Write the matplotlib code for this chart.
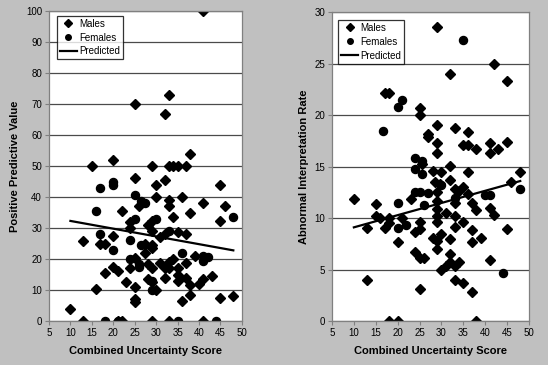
import numpy as np
import matplotlib
matplotlib.use('Agg')
from matplotlib import pyplot as plt
from matplotlib.lines import Line2D

plt.rcParams['font.family'] = ['Liberation Sans', 'DejaVu Sans']

# left panel: positive predictive value
males_ppv_x = [41, 25, 33, 32, 38, 15, 20, 29, 33, 34, 35, 37, 25, 30, 32, 45, 30, 33, 36, 41,
               46, 45, 22, 26, 24, 29, 28, 34, 38, 33, 24, 29, 32, 31, 35, 37, 20, 27.5, 29, 29,
               27.5, 13, 17, 18, 25, 28, 29, 31, 32, 33, 34, 33, 37, 35, 35, 35, 39, 20, 21, 18,
               24, 28, 29, 32, 37, 38, 40, 41, 43, 23, 16, 25, 30, 25, 25, 36, 38, 45, 48, 10,
               13, 21, 22, 29, 33, 41]
males_ppv_y = [100, 70, 73, 66.7, 54, 50, 52, 50, 50, 50, 50, 50, 46, 44, 45.5, 44, 40, 39, 40, 38,
               37, 32.4, 35.4, 37, 32, 32.4, 31, 33.6, 35, 37, 30, 29, 28, 27, 28.6, 28, 27.3, 25, 24.5, 23.5,
               22, 25.8, 25, 25, 20.3, 18.5, 17, 18.7, 17, 17, 20, 19, 18.6, 17, 15, 13, 21, 17.5, 16, 15.6,
               17, 13.5, 12.5, 13.8, 13.8, 11.5, 12, 13.5, 14.5, 12.5, 10.3, 11, 10, 7, 6, 6.5, 8.3, 7.5, 8, 4,
               0, 0, 0, 0, 0, 0]
females_ppv_x = [20, 17, 20, 25, 26.5, 48, 16, 25, 30, 33, 17, 24, 26.5, 20, 24, 26, 36, 41, 41, 42,
                 29, 18, 21, 35, 44, 27.5, 29, 26]
females_ppv_y = [45, 43, 43.8, 40.6, 38.6, 33.5, 35.4, 33, 33, 29, 28, 26.3, 24.6, 22.8, 20, 18.5, 22, 19.5, 21, 20.5,
                 10, 0, 0, 0, 0, 38, 13, 17.5]
pred_ppv_x = [10, 48]
pred_ppv_y = [32.3, 22.8]

# right panel: abnormal interpretation rate
males_air_x = [29, 32, 42, 45, 17, 18, 25, 25, 29, 33, 36, 27, 27, 29, 29, 35, 36, 38, 41, 41,
               43, 45, 25.5, 28, 32, 36, 48, 46, 10, 13, 13, 15, 15, 16, 17, 18, 18, 20, 21, 23,
               24, 25, 25, 24, 25, 26, 25, 29, 29, 29, 29, 29, 28, 29, 29, 30, 31, 32, 32, 32,
               31, 30, 33, 34, 33, 35, 37, 33, 33, 33, 35, 37, 37, 39, 38, 37, 41, 45, 41, 42,
               34, 35, 36, 33, 28.5, 32, 18, 20, 38, 29.7, 30]
males_air_y = [28.6, 24, 25, 23.3, 22.2, 22.2, 20.7, 20, 19, 18.8, 18.4, 18.2, 17.9, 17.3, 16.3, 17.1, 17.1, 16.7, 17.3, 16.3,
               16.7, 17.4, 15.3, 14.6, 15.1, 14.5, 14.5, 13.5, 11.9, 9, 4, 11.4, 10.2, 10, 9, 9.5, 10, 7.7, 10, 11.9,
               8.6, 8.9, 9.6, 6.7, 6.1, 6.1, 3.1, 12.5, 11.7, 10.9, 10.2, 9.6, 8.1, 7.8, 7.0, 8.5, 10.5, 8, 6.5, 5.7,
               5.3, 5.0, 5.3, 5.7, 4, 3.7, 2.8, 9.1, 10.2, 11.5, 9.6, 8.8, 7.7, 8.1, 10.8, 11.5, 5.9, 8.9, 11, 10.3,
               12.6, 13, 12.3, 12.8, 13.5, 13.7, 0, 0, 0, 13.3, 14.5]
females_air_x = [35, 20, 21, 16.7, 24, 24, 25.5, 25.5, 20, 20, 22, 24, 25, 27, 26, 44, 40, 41, 48, 30, 33]
females_air_y = [27.3, 20.8, 21.5, 18.5, 15.8, 14.8, 14.3, 15.5, 11.5, 9, 9.3, 12.5, 12.5, 12.4, 11.3, 4.7, 12.2, 12.2, 12.8, 13.2, 12]
pred_air_x = [10, 48]
pred_air_y = [9.1, 13.6]

bg = '#c0c0c0'
fig = plt.figure(figsize=(5.48, 3.65), dpi=100, facecolor=bg)


def panel(rect, mx, my, fx, fy, px, py, ymax, ystep, ylabel, leg_anchor):
    ax = fig.add_axes(rect)
    ax.set_facecolor('white')
    ax.set_axisbelow(True)
    ax.yaxis.grid(True, color='#4a4a4a', lw=0.9)
    ax.plot(mx, my, ls='none', marker='D', ms=4.8, color='black')
    ax.plot(fx, fy, ls='none', marker='o', ms=5.8, color='black')
    ax.plot(px, py, color='black', lw=1.6)
    ax.set_xlim(5, 50)
    ax.set_ylim(0, ymax)
    ax.set_xticks(np.arange(5, 51, 5))
    ax.set_yticks(np.arange(0, ymax + 1, ystep))
    for s in ax.spines.values():
        s.set_color('#808080')
        s.set_linewidth(0.9)
    ax.tick_params(labelsize=7, length=3, width=0.8, color='#808080', pad=2)
    ax.set_xlabel('Combined Uncertainty Score', fontsize=8, fontweight='bold', labelpad=6)
    ax.set_ylabel(ylabel, fontsize=8, fontweight='bold', labelpad=4)
    handles = [Line2D([], [], ls='none', marker='D', ms=3.6, color='black'),
               Line2D([], [], ls='none', marker='o', ms=4, color='black'),
               Line2D([], [], color='black', lw=1.6)]
    leg = ax.legend(handles, ['Males', 'Females', 'Predicted'], loc='upper left',
                    bbox_to_anchor=leg_anchor, fontsize=7, frameon=True, fancybox=False,
                    handlelength=1.8, handletextpad=0.2, borderpad=0.3, labelspacing=0.4,
                    borderaxespad=0)
    leg.get_frame().set_edgecolor('black')
    leg.get_frame().set_linewidth(0.9)
    return ax


panel([0.0894, 0.1205, 0.352, 0.849], males_ppv_x, males_ppv_y, females_ppv_x, females_ppv_y,
      pred_ppv_x, pred_ppv_y, 100, 10, 'Positive Predictive Value', (0.04, 0.985))
panel([0.6058, 0.1205, 0.3595, 0.846], males_air_x, males_air_y, females_air_x, females_air_y,
      pred_air_x, pred_air_y, 30, 5, 'Abnormal Interpretation Rate', (0.03, 0.975))

fig.savefig('out.png', dpi=100, facecolor=bg)
